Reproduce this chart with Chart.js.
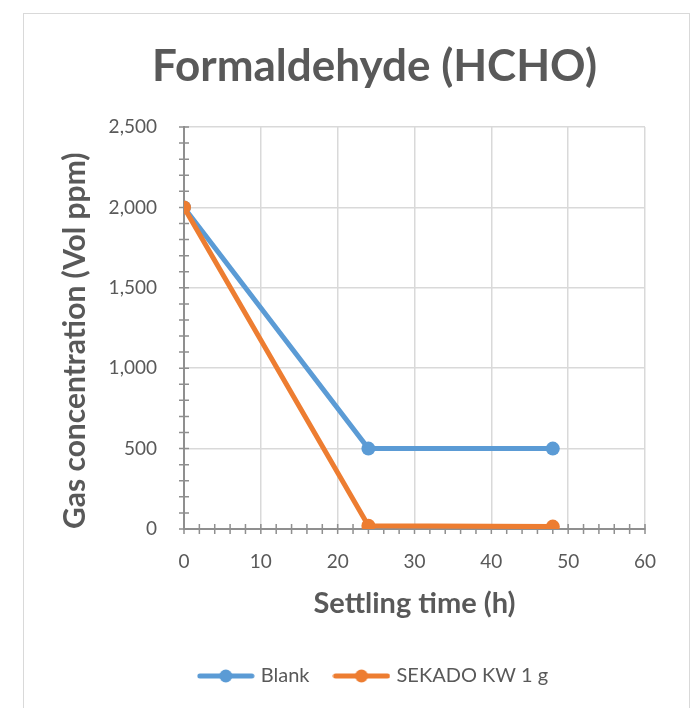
<!DOCTYPE html>
<html>
<head>
<meta charset="utf-8">
<script src="https://cdn.jsdelivr.net/npm/chart.js@4.4.0/dist/chart.umd.min.js"></script>
<style>
  html, body { margin: 0; padding: 0; background: #fff; }
  #wrap { position: relative; width: 699px; height: 708px; overflow: hidden; }
  #frame { position: absolute; left: 23px; top: 13px; width: 665px; height: 740px; border: 1px solid #d9d9d9; }
  canvas { position: absolute; left: 0; top: 0; }
</style>
</head>
<body>
<div id="wrap">
  <div id="frame"></div>
  <canvas id="chart" width="699" height="708"></canvas>
</div>
<script>
(() => {
  'use strict';

  // ── Data ──────────────────────────────────────────────────
  const hours = [0, 24, 48];
  const blankPpm = [2000, 500, 500];
  const sekadoPpm = [2000, 20, 15];
  const seriesNames = ['Blank', 'SEKADO KW 1 g'];
  const xRange = [0, 60];
  const yRange = [0, 2500];
  const xStep = 10, xMinorStep = 2;
  const yStep = 500, yMinorStep = 100;

  const blue = '#5b9bd5';
  const orange = '#ed7d31';
  const textGray = '#595959';
  const axisGray = '#8f8f8f';
  const gridGray = '#d9d9d9';
  const font = 'Lato, "Open Sans", sans-serif';

  // legend icon: line with a dot in the middle
  function legendIcon(color) {
    const c = document.createElement('canvas');
    c.width = 58; c.height = 16;
    const g = c.getContext('2d');
    g.strokeStyle = color; g.lineWidth = 5; g.lineCap = 'round';
    g.beginPath(); g.moveTo(3, 8); g.lineTo(55, 8); g.stroke();
    g.fillStyle = color;
    g.beginPath(); g.arc(29, 8, 6.5, 0, Math.PI * 2); g.fill();
    return c;
  }
  const icons = [legendIcon(blue), legendIcon(orange)];

  // crossing tick marks on both axes, like the spreadsheet original
  const axisTicks = {
    id: 'axisTicks',
    beforeDatasetsDraw(chart) {
      const { ctx, scales: { x, y } } = chart;
      const x0 = x.getPixelForValue(xRange[0]);
      const y0 = y.getPixelForValue(yRange[0]);
      ctx.save();
      ctx.strokeStyle = axisGray;
      ctx.lineWidth = 1.5;
      ctx.beginPath();
      for (let v = xRange[0]; v <= xRange[1]; v += xMinorStep) {
        const px = x.getPixelForValue(v);
        ctx.moveTo(px, y0 - 5); ctx.lineTo(px, y0 + 5);
      }
      for (let v = yRange[0]; v <= yRange[1]; v += yMinorStep) {
        const py = y.getPixelForValue(v);
        ctx.moveTo(x0 - 5, py); ctx.lineTo(x0 + 5, py);
      }
      ctx.stroke();
      ctx.restore();
    }
  };

  const lineStyle = (color) => ({
    borderColor: color,
    backgroundColor: color,
    pointBackgroundColor: color,
    pointBorderWidth: 0,
    pointRadius: 7,
    borderWidth: 5,
    tension: 0,
  });

  new Chart(document.getElementById('chart'), {
    type: 'line',
    data: {
      datasets: [
        { label: seriesNames[0], data: hours.map((h, i) => ({ x: h, y: blankPpm[i] })), order: 1, ...lineStyle(blue) },
        { label: seriesNames[1], data: hours.map((h, i) => ({ x: h, y: sekadoPpm[i] })), order: 0, ...lineStyle(orange) },
      ],
    },
    options: {
      responsive: false,
      animation: false,
      layout: { padding: { left: 50, right: 0, top: 0, bottom: 12 } },
      plugins: {
        title: {
          display: true,
          text: 'Formaldehyde (HCHO)',
          color: textGray,
          font: { family: font, size: 44, weight: 'bold' },
          padding: { top: 40.6, bottom: 33.6 },
        },
        legend: {
          position: 'bottom',
          labels: {
            usePointStyle: true,
            pointStyleWidth: 50,
            padding: 27,
            color: textGray,
            font: { family: font, size: 20 },
            generateLabels(chart) {
              return Chart.defaults.plugins.legend.labels.generateLabels(chart)
                .sort((a, b) => a.datasetIndex - b.datasetIndex)
                .map(item => ({ ...item, pointStyle: icons[item.datasetIndex] }));
            },
          },
        },
        tooltip: { enabled: false },
      },
      scales: {
        x: {
          type: 'linear',
          min: xRange[0], max: xRange[1],
          ticks: { stepSize: xStep, color: textGray, font: { family: font, size: 19 }, padding: 21 },
          grid: { color: gridGray, lineWidth: 1.5, drawTicks: false },
          border: { color: axisGray, width: 2 },
          title: {
            display: true, text: 'Settling time (h)', color: textGray,
            font: { family: font, size: 29, weight: 'bold' },
            padding: { top: 0, bottom: 17.6 },
          },
          afterFit(s) { s.height = 110; },
        },
        y: {
          min: yRange[0], max: yRange[1],
          ticks: {
            stepSize: yStep, color: textGray, font: { family: font, size: 19 }, padding: 27,
            callback: v => v.toLocaleString('en-US'),
          },
          grid: { color: gridGray, lineWidth: 1.5, drawTicks: false },
          border: { color: axisGray, width: 2 },
          title: {
            display: true, text: 'Gas concentration (Vol ppm)', color: textGray,
            align: 'start',
            font: { family: font, size: 30, weight: 'bold' },
            padding: { top: 7, bottom: 0 },
          },
          afterFit(s) { s.width = 134; },
        },
        spacer: {
          position: 'right',
          ticks: { display: false },
          grid: { display: false },
          border: { display: false },
          afterFit(s) { s.width = 54; },
        },
      },
    },
    plugins: [axisTicks],
  });
})();
</script>
</body>
</html>
